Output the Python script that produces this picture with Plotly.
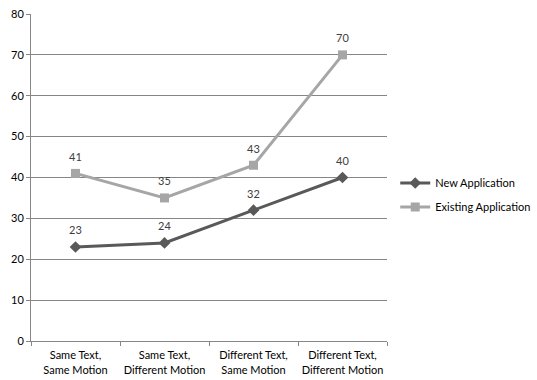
import plotly.graph_objects as go

categories = ["Same Text,<br>Same Motion", "Same Text,<br>Different Motion",
              "Different Text,<br>Same Motion", "Different Text,<br>Different Motion"]
new_app = [23, 24, 32, 40]
existing_app = [41, 35, 43, 70]
y_ticks = [0, 10, 20, 30, 40, 50, 60, 70, 80]

font = dict(family="Lato, Liberation Sans, sans-serif", size=11, color="#404040")
series = [
    ("New Application", new_app, "#595959", "diamond", "legend"),
    ("Existing Application", existing_app, "#a6a6a6", "square", "legend2"),
]

fig = go.Figure()
for name, values, color, symbol, leg in series:
    fig.add_trace(go.Scatter(
        x=categories, y=values, name=name, legend=leg,
        mode="lines+markers",
        line=dict(color=color, width=3),
        marker=dict(symbol=symbol, size=9, color=color),
    ))
    # value labels above each marker
    for cat, v in zip(categories, values):
        fig.add_annotation(x=cat, y=v, text=str(v), showarrow=False,
                           yshift=17, font=dict(size=11, color="#404040"))

legend_style = dict(xref="container", yref="container", x=0.736,
                    xanchor="left", yanchor="middle", bgcolor="rgba(0,0,0,0)",
                    font=dict(size=11, color="#000000"), itemwidth=30)

fig.update_layout(
    width=537, height=380,
    margin=dict(l=31, r=150, t=14, b=39, autoexpand=False),
    paper_bgcolor="white", plot_bgcolor="white",
    font=font,
    showlegend=True,
    legend=dict(legend_style, y=1 - 183 / 380),
    legend2=dict(legend_style, y=1 - 207 / 380),
    xaxis=dict(
        type="category", range=[-0.5, 3.5], tickson="boundaries",
        ticks="outside", ticklen=4, tickcolor="#868686", tickangle=0,
        ticklabelstandoff=4,
        showline=True, linecolor="#868686", linewidth=1, automargin=False,
        showgrid=False, tickfont=dict(size=11, color="#000000"),
    ),
    yaxis=dict(
        range=[0, 80], tickvals=y_ticks, ticks="outside", ticklen=4,
        tickcolor="#868686", showline=True, linecolor="#868686",
        showgrid=True, gridcolor="#868686", gridwidth=1, zeroline=False,
        tickfont=dict(size=11, color="#000000"), automargin=False,
    ),
)

fig.write_html("out.html")
